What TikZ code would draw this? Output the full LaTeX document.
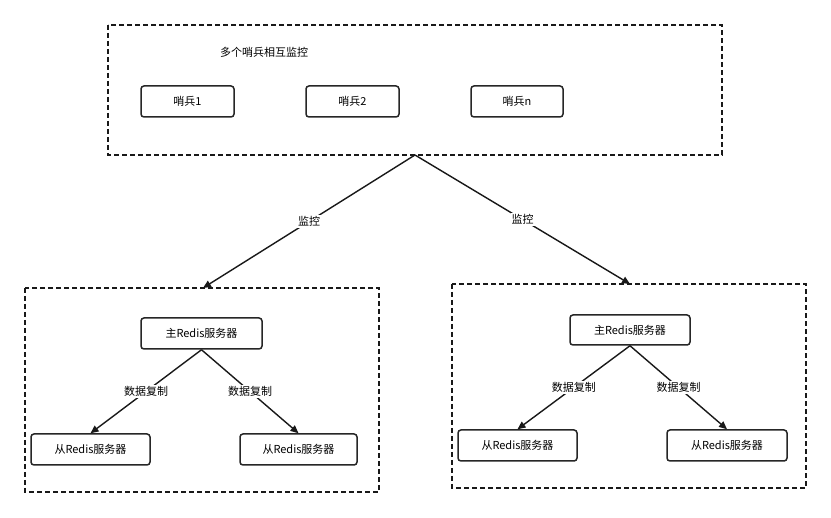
\documentclass[tikz,border=0pt]{standalone}
\usepackage{fontspec}
\setmainfont{Noto Sans CJK SC}
\usetikzlibrary{arrows.meta}
\begin{document}
\begin{tikzpicture}[x=1pt,y=-1pt,
  grp/.style={draw=black!90,line width=1.3pt,dash pattern=on 5pt off 3pt},
  box/.style={draw=black!85,line width=1.5pt,rounded corners=3pt,font=\fontsize{11}{13}\selectfont,inner sep=0pt},
  lab/.style={font=\fontsize{11}{13}\selectfont,fill=white,inner sep=1pt},
  arr/.style={draw=black!90,line width=1.4pt,-{Triangle[length=8pt,width=7pt]}}]
\useasboundingbox (0,0) rectangle (831,518);
\fill[white] (0,0) rectangle (831,518);
% top
\draw[grp] (108,25) rectangle (722,155);
\node[font=\fontsize{11}{13}\selectfont] (t) at (264,52) {多个哨兵相互监控};
\node[box,minimum width=93pt,minimum height=31pt] (s1) at (187.5,101.5) {哨兵1};
\node[box,minimum width=93pt,minimum height=31pt] (s2) at (352.5,101.5) {哨兵2};
\node[box,minimum width=92pt,minimum height=31pt] (sn) at (517,101.5) {哨兵n};
\coordinate (top) at (415,155);
% left group
\draw[grp] (25,288) rectangle (379,492);
\node[box,minimum width=121pt,minimum height=31pt] (m1) at (201.5,333.5) {主Redis服务器};
\node[box,minimum width=119pt,minimum height=31pt] (a1) at (90.5,449.5) {从Redis服务器};
\node[box,minimum width=117pt,minimum height=31pt] (b1) at (298.5,449.5) {从Redis服务器};
\coordinate (g1) at (203,288);
% right group
\draw[grp] (452,284) rectangle (806,488);
\node[box,minimum width=120pt,minimum height=30pt] (m2) at (630,330) {主Redis服务器};
\node[box,minimum width=119pt,minimum height=31pt] (a2) at (517.5,445.5) {从Redis服务器};
\node[box,minimum width=120pt,minimum height=31pt] (b2) at (727,445.5) {从Redis服务器};
\coordinate (g2) at (630,284);
% arrows
\draw[arr] (top) -- node[lab,pos=0.5] {监控} (g1);
\draw[arr] (top) -- node[lab,pos=0.5] {监控} (g2);
\draw[arr] (m1.south) -- node[lab,pos=0.5] {数据复制} (a1.north);
\draw[arr] (m1.south) -- node[lab,pos=0.5] {数据复制} (b1.north);
\draw[arr] (m2.south) -- node[lab,pos=0.5] {数据复制} (a2.north);
\draw[arr] (m2.south) -- node[lab,pos=0.5] {数据复制} (b2.north);
\end{tikzpicture}
\end{document}
